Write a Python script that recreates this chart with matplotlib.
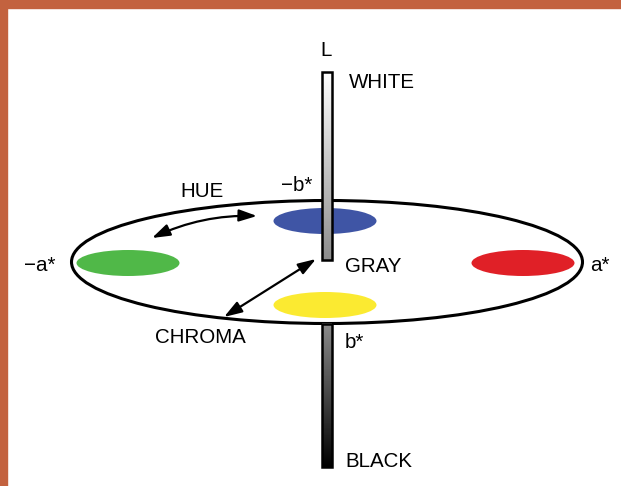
import numpy as np
import matplotlib.pyplot as plt
from matplotlib.patches import Ellipse, Rectangle, FancyArrowPatch

plt.rcParams['font.family'] = ['Liberation Sans', 'DejaVu Sans']

# colour blobs on the a*/b* plane
blob_names = ['-b*', '+b*', '-a*', '+a*']
blob_colors = ['#3F55A5', '#FBEA31', '#50B848', '#E02027']
blob_centers = [(325, 221), (325, 305), (128, 263), (523, 263)]

# text labels
labels = ['L', 'WHITE', 'HUE', '\u2212b*', '\u2212a*', 'GRAY', 'a*', 'CHROMA', 'b*', 'BLACK']
label_pos = [(326, 50), (349, 82), (202, 191), (297, 185), (40, 265),
             (345, 266), (600, 265), (200, 337), (345, 342), (345, 461)]
label_ha = ['center', 'left', 'center', 'center', 'center',
            'left', 'center', 'center', 'left', 'left']

fig = plt.figure(figsize=(6.21, 4.86), dpi=100)
ax = fig.add_axes([0, 0, 1, 1])
ax.set_xlim(0, 621)
ax.set_ylim(486, 0)
ax.axis('off')

# frame edge
border = '#C3623F'
ax.add_patch(Rectangle((0, 0), 621, 8, color=border, zorder=10))
ax.add_patch(Rectangle((0, 0), 7, 486, color=border, zorder=10))

# big ellipse
ax.add_patch(Ellipse((327, 262), 511, 123, fill=False, ec='black', lw=2.2, zorder=2))

for c, (x, y) in zip(blob_colors, blob_centers):
    ax.add_patch(Ellipse((x, y), 103, 26, color=c, lw=0, zorder=1))

# L axis bars with gradients
grad = np.linspace(0, 1, 256).reshape(-1, 1)
ax.imshow(1 - 0.45 * grad, cmap='gray', vmin=0, vmax=1, extent=(322, 332, 260, 72),
          aspect='auto', zorder=3)
ax.add_patch(Rectangle((322, 72), 10, 188, fill=False, ec='black', lw=1.8, zorder=4))
ax.imshow(0.55 * (1 - grad), cmap='gray', vmin=0, vmax=1, extent=(322, 332, 467, 324),
          aspect='auto', zorder=3)
ax.add_patch(Rectangle((322, 324), 10, 143, fill=False, ec='black', lw=1.8, zorder=4))

# arrows
head = '<|-|>,head_length=0.6,head_width=0.2'
hue = FancyArrowPatch((152, 238), (257, 216), arrowstyle=head, mutation_scale=18,
                      connectionstyle='arc3,rad=-0.12', color='black', lw=1.6,
                      shrinkA=0, shrinkB=0, zorder=5)
ax.add_patch(hue)
chroma = FancyArrowPatch((224, 317), (316, 259), arrowstyle=head, mutation_scale=18,
                         color='black', lw=1.6, shrinkA=0, shrinkB=0, zorder=5)
ax.add_patch(chroma)

for t, (x, y), ha in zip(labels, label_pos, label_ha):
    ax.text(x, y, t, ha=ha, va='center', fontsize=14.8, color='black', zorder=6)

fig.savefig('out.png', dpi=100)
